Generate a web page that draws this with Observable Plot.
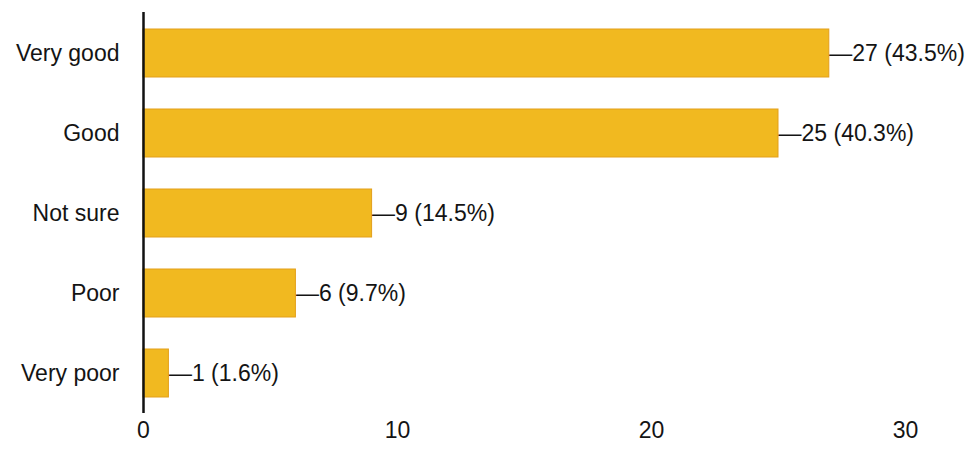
<!DOCTYPE html>
<html>
<head>
<meta charset="utf-8">
<script src="https://cdn.jsdelivr.net/npm/d3@7"></script>
<script src="https://cdn.jsdelivr.net/npm/@observablehq/plot@0.6"></script>
<style>
  html, body { margin: 0; padding: 0; background: #ffffff; }
  #chart svg { display: block; }
</style>
</head>
<body>
<div id="chart"></div>
<script>
const categories = ["Very good", "Good", "Not sure", "Poor", "Very poor"];
const counts = [27, 25, 9, 6, 1];
const percents = ["43.5%", "40.3%", "14.5%", "9.7%", "1.6%"];
const xTicks = [0, 10, 20, 30];

const data = categories.map((c, i) => ({
  category: c,
  count: counts[i],
  label: "\u2014" + counts[i] + " (" + percents[i] + ")"
}));

const chart = Plot.plot({
  width: 973,
  height: 452,
  marginLeft: 143,
  marginRight: 68,
  marginTop: 12,
  marginBottom: 39,
  style: {
    fontFamily: "'Liberation Sans', Arial, sans-serif",
    fontSize: "23px",
    color: "#141414",
    background: "#ffffff"
  },
  x: {
    domain: [0, 30],
    ticks: xTicks,
    tickSize: 0,
    tickPadding: 8,
    label: null
  },
  y: {
    domain: categories,
    paddingInner: 0.4,
    paddingOuter: 0.2,
    tickSize: 0,
    tickPadding: 24,
    label: null
  },
  marks: [
    Plot.barX(data, {
      x: "count",
      y: "category",
      fill: "#F1B920",
      stroke: "#E39F1A",
      strokeWidth: 1
    }),
    Plot.ruleX([0], { stroke: "#111111", strokeWidth: 2.5 }),
    Plot.text(data, {
      x: "count",
      y: "category",
      text: "label",
      textAnchor: "start",
      dx: 0,
      fill: "#141414",
      fontSize: 23
    })
  ]
});

document.getElementById("chart").appendChild(chart);
</script>
</body>
</html>
